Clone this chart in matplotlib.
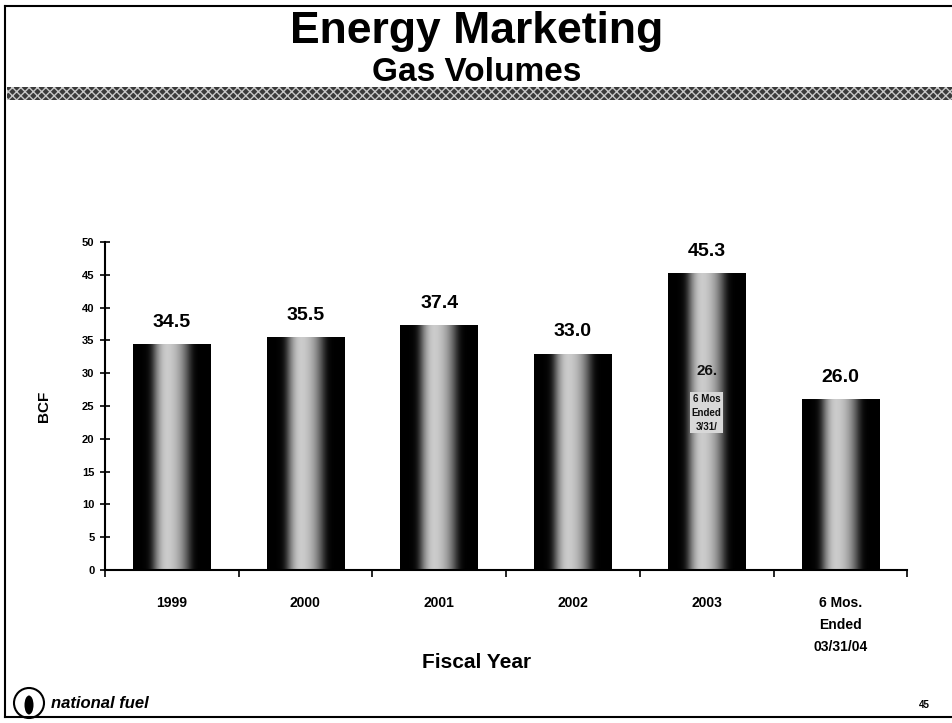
import numpy as np
import matplotlib
matplotlib.use("Agg")
import matplotlib.pyplot as plt
from matplotlib.patches import Rectangle, Circle, Ellipse
from matplotlib.lines import Line2D

# chart data
categories = ["1999", "2000", "2001", "2002", "2003", "6 Mos.\nEnded\n03/31/04"]
volumes = [34.5, 35.5, 37.4, 33.0, 45.3, 26.0]
value_labels = ["34.5", "35.5", "37.4", "33.0", "45.3", "26.0"]
y_ticks = [0, 5, 10, 15, 20, 25, 30, 35, 40, 45, 50]

plt.rcParams['font.family'] = ['Liberation Sans', 'DejaVu Sans']

fig = plt.figure(figsize=(9.53, 7.23), dpi=100)

# page frame
for x0, y0, x1, y1 in [(0.005, 0.008, 0.005, 0.992), (0.005, 0.992, 0.998, 0.992),
                       (0.005, 0.008, 0.998, 0.008)]:
    fig.add_artist(Line2D([x0, x1], [y0, y1], color="black", lw=1.5))

# titles
fig.text(0.5, 0.956, "Energy Marketing", ha="center", va="center", fontsize=32,
         fontweight="bold")
fig.text(0.5, 0.900, "Gas Volumes", ha="center", va="center", fontsize=24,
         fontweight="bold")

# textured band under the title
fig.add_artist(Rectangle((0.007, 0.862), 0.993, 0.017, transform=fig.transFigure,
                         facecolor="#3a3a3a", edgecolor="#c8c8c8", hatch="xxxx", lw=0))

ax = fig.add_axes([0.110, 0.2116, 0.842, 0.4537])
x = np.arange(len(categories))
bar_w = 0.58
bars = ax.bar(x, volumes, width=bar_w, color="none", edgecolor="none", zorder=2)

# cylinder-like shading for each bar
shade = np.array([[0.0, 0.0, 0.05, 0.6, 0.82, 0.78, 0.66, 0.4, 0.02, 0.0, 0.0]])
for b in bars:
    bx, bw, bh = b.get_x(), b.get_width(), b.get_height()
    im = ax.imshow(shade, cmap="gray", vmin=0, vmax=1, aspect="auto",
                   extent=[bx, bx + bw, 0, bh], interpolation="bicubic", zorder=2)
    im.set_clip_path(b)

for xi, v, lab in zip(x, volumes, value_labels):
    ax.text(xi, v + 2.0, lab, ha="center", va="bottom", fontsize=14, fontweight="bold")

# stray label artefact inside the 2003 bar
ax.text(4, 30.4, "26.", ha="center", va="center", fontsize=11, fontweight="bold",
        color="#111111", zorder=3)
ax.text(4.0, 24.0, "6 Mos\nEnded\n3/31/", ha="center", va="center", fontsize=7,
        fontweight="bold", color="#111111", linespacing=1.5, zorder=3,
        bbox=dict(facecolor="#d8d8d8", edgecolor="none", pad=1))

ax.set_xlim(-0.5, len(categories) - 0.5)
ax.set_ylim(0, 50)
ax.set_yticks(y_ticks)
ax.set_yticklabels([str(t) for t in y_ticks], fontsize=8, fontweight="bold")
ax.set_xticks(x)
ax.set_xticklabels(categories, fontsize=10, fontweight="bold", linespacing=1.7, va="top")
ax.tick_params(axis="x", length=0, pad=19)
ax.tick_params(axis="y", direction="inout", length=7, width=1.2, pad=4)
ax.set_xticks(np.arange(len(categories) + 1) - 0.5, minor=True)
ax.tick_params(axis="x", which="minor", direction="out", length=5, width=1.2)
for side in ["top", "right"]:
    ax.spines[side].set_visible(False)
ax.spines["left"].set_linewidth(1.5)
ax.spines["bottom"].set_linewidth(1.5)

ax.set_ylabel("BCF", fontsize=11, fontweight="bold", labelpad=22)
fig.text(0.50, 0.084, "Fiscal Year", ha="center", va="center", fontsize=15, fontweight="bold")

# footer logo (drawn in inches so the circle stays round) and page number
fig.add_artist(Circle((0.29, 0.20), 0.15, transform=fig.dpi_scale_trans,
                      facecolor="white", edgecolor="black", lw=1.5))
fig.add_artist(Ellipse((0.29, 0.18), 0.09, 0.19, transform=fig.dpi_scale_trans,
                       facecolor="black", edgecolor="none"))
fig.text(0.053, 0.027, "national fuel", ha="left", va="center", fontsize=12,
         fontweight="bold", style="italic")
fig.text(0.970, 0.025, "45", ha="center", va="center", fontsize=7, fontweight="bold")

fig.savefig("out.png", dpi=100)
